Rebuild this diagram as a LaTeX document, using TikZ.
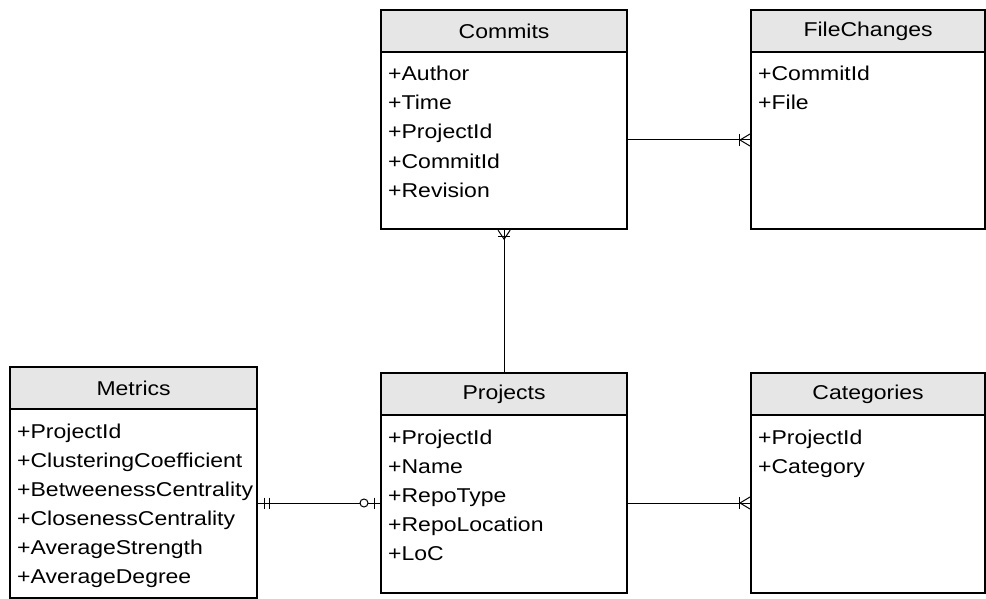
\documentclass[tikz,border=0pt]{standalone}
\usepackage{fontspec}
\setmainfont{Liberation Sans}[FakeStretch=1.15]
\usetikzlibrary{calc}
\definecolor{hdrgray}{HTML}{E6E6E6}
\newcommand\erfont{\fontsize{20}{24}\selectfont}
\tikzset{
  entbody/.style={draw, line width=2.2pt, inner sep=0pt, fill=white},
  enthead/.style={draw, line width=2.2pt, inner sep=0pt, fill=hdrgray, minimum height=42pt, font=\erfont},
  rowtext/.style={inner sep=0pt, font=\erfont},
  link/.style={line width=1pt},
}
% #1 name, #2 x, #3 y (top left), #4 width, #5 height, #6 title, #7 attribute rows
\newcommand\erentity[7]{%
  \node[entbody, anchor=north west, minimum width=#4pt, minimum height=#5pt] (#1) at (#2,#3) {};
  \node[enthead, anchor=north west, minimum width=#4pt] (#1-h) at (#2,#3) {#6};
  \foreach \r [count=\i] in {#7}
    \node[rowtext, anchor=base west] (#1-\i) at ($(#1.north west)+(8,{72+(\i-1)*29})$) {\r};
}
\begin{document}
\begin{tikzpicture}[x=1pt, y=-1pt]
\useasboundingbox (0,0) rectangle (986,599);

\erentity{commits}{380}{9}{246}{219}{Commits}{+Author,+Time,+ProjectId,+CommitId,+Revision}
\erentity{fc}{750}{9}{234}{219}{FileChanges}{+CommitId,+File}
\erentity{metrics}{9}{366}{247}{231}{Metrics}{+ProjectId,+ClusteringCoefficient,+BetweenessCentrality,+ClosenessCentrality,+AverageStrength,+AverageDegree}
\erentity{projects}{380}{372}{246}{220}{Projects}{+ProjectId,+Name,+RepoType,+RepoLocation,+LoC}
\erentity{categories}{750}{372}{234}{220}{Categories}{+ProjectId,+Category}

\coordinate (lvA) at (0,140);
\coordinate (lvB) at (0,503);

% Commits -- FileChanges (one to many)
\draw[link] (commits.east |- lvA) -- (fc.west |- lvA);
\begin{scope}[shift={(fc.west |- lvA)}]
  \draw[link] (0,-6) -- (-10,0) -- (0,6);
  \draw[link] (-11,-6) -- (-11,6);
\end{scope}

% Projects -- Commits (one to many)
\draw[link] (projects.north) -- (commits.south);
\begin{scope}[shift={(commits.south)}]
  \draw[link] (-6,0) -- (0,9) -- (6,0);
  \draw[link] (-6,6) -- (6,6);
\end{scope}

% Metrics -- Projects (one to zero-or-one)
\draw[link] (metrics.east |- lvB) -- (projects.west |- lvB);
\begin{scope}[shift={(metrics.east |- lvB)}]
  \draw[link] (6,-5.5) -- (6,5.5);
  \draw[link] (11,-5.5) -- (11,5.5);
\end{scope}
\begin{scope}[shift={(projects.west |- lvB)}]
  \draw[link, fill=white] (-16,0) circle[radius=4];
  \draw[link] (-6,-5.5) -- (-6,5.5);
\end{scope}

% Projects -- Categories (one to many)
\draw[link] (projects.east |- lvB) -- (categories.west |- lvB);
\begin{scope}[shift={(categories.west |- lvB)}]
  \draw[link] (0,-6) -- (-10,0) -- (0,6);
  \draw[link] (-11,-6) -- (-11,6);
\end{scope}
\end{tikzpicture}
\end{document}
